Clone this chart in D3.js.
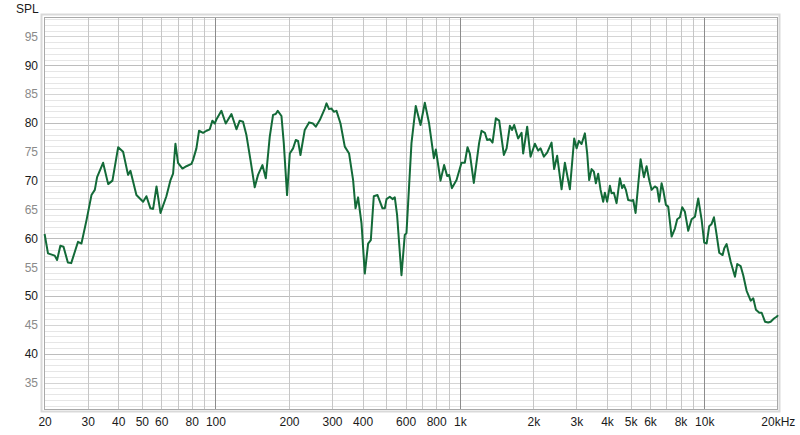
<!DOCTYPE html>
<html>
<head>
<meta charset="utf-8">
<script src="https://cdn.jsdelivr.net/npm/d3@7"></script>
<style>
  html, body { margin: 0; padding: 0; background: #ffffff; }
  svg { display: block; }
  text { font-family: "Liberation Sans", Arial, sans-serif; font-size: 12px; }
</style>
</head>
<body>
<svg id="chart" width="800" height="435"></svg>
<script>
// ---- data ----
const freqHz = [20, 20.65, 22.0, 22.5, 23.2, 23.9, 24.9, 25.7, 27.4, 28.3, 29.7, 31.1, 32.1, 32.8, 34.7, 36.4, 37.9, 40.0, 41.9, 43.9, 44.9, 47.5, 50.6, 52.2, 54.2, 55.6, 57.4, 59.6, 63.0, 65.5, 67.1, 68.6, 70.3, 73.3, 76.1, 79.8, 81.0, 83.6, 85.7, 89.0, 91.9,
  94.8, 97.2, 99.3, 100.9, 105.8, 110.2, 116.3, 121.9, 125.7, 129.7, 133.9, 139.1, 144.8, 149.4, 155.7, 160.7, 166.8, 172.1, 176.5, 179.9, 186.3, 190.4, 196.4, 201.5, 207.8, 213.2, 217.8, 222.8, 232, 241.6, 250.9, 257.4, 267.3, 280.2, 284.8, 291.7, 298.4, 305, 312.8, 324.9, 338.3, 352.3, 365.9, 374.3, 383.5, 396, 408.5, 421.4, 432.3, 444.6, 460.4, 482.6, 493.2, 501.2, 517, 530.3, 541.9,
  553.7, 577.1, 595.3, 604.9, 634.1, 660.3, 690.6, 719.1, 748.7, 783, 797.8, 833.7, 862.5, 887.3, 904.2, 927.5, 969.4, 1016, 1048, 1075, 1099, 1141, 1199, 1227, 1266, 1293, 1327, 1361, 1404, 1449, 1514, 1554, 1602, 1637, 1669, 1732, 1789, 1816, 1886, 1947, 2028, 2092, 2140, 2207, 2277, 2373, 2432, 2502, 2608, 2690, 2820, 2937, 3004, 3070, 3149, 3249,
  3320, 3383, 3460, 3536, 3603, 3682, 3766, 3860, 3922, 4008, 4111, 4177, 4268, 4379, 4517, 4616, 4691, 4780, 4885, 5044, 5121, 5238, 5367, 5491, 5665, 5810, 5955, 6091, 6284, 6421, 6543, 6693, 6795, 6969, 7122, 7355, 7587, 7753, 7952, 8128, 8337, 8600, 8880, 9161, 9450, 9759, 10000, 10230, 10480, 10720, 10960, 11240, 11520, 11890, 12080, 12350, 12830, 13360, 13650, 14090, 14440, 14910, 15490, 15870, 16280, 16800, 17180, 17730, 18280, 18700, 19290, 19910, 20000];

const splDb = [60.75, 57.4, 57.0, 56.25, 58.7, 58.55, 55.8, 55.7, 59.4, 59.1, 63.2, 67.5, 68.4, 70.6, 73.1, 69.4, 70.0, 75.8, 75.0, 71.0, 71.7, 67.5, 66.35, 67.3, 65.2, 65.1, 69.0, 64.4, 67.3, 70.1, 71.2, 76.4, 73.1, 72.1, 72.5, 72.9, 73.6, 75.6, 78.65, 78.3, 78.65,
  78.9, 80.4, 79.9, 80.6, 82.1, 79.9, 81.55, 78.9, 80.4, 80.2, 77.9, 73.6, 68.85, 71.0, 72.7, 70.4, 77.6, 81.4, 81.55, 82.1, 81.2, 76.5, 67.5, 74.7, 75.6, 77.05, 76.9, 74.45, 78.8, 80.1, 79.9, 79.35, 80.5, 82.5, 83.4, 82.4, 82.5, 81.95, 82.1, 79.9, 75.9, 74.7, 70.1, 65.2, 67.1, 62.6, 53.9, 59.1, 59.7, 67.3, 67.5, 65.2, 65.2, 66.8, 67.2, 66.8, 67.1,
  64.05, 53.6, 60.6, 60.9, 76.5, 82.95, 79.65, 83.5, 79.9, 73.9, 75.4, 70.0, 72.7, 70.8, 71.0, 68.7, 70.1, 73.1, 73.1, 75.8, 74.7, 69.6, 76.5, 78.65, 78.3, 77.05, 77.2, 76.6, 80.8, 80.4, 74.45, 75.6, 79.5, 78.8, 79.65, 77.3, 78.3, 74.7, 79.35, 74.15, 76.4, 75.2, 75.6, 74.15, 74.85, 76.6, 72.0, 74.3, 68.5, 73.1, 68.5, 77.3, 75.6, 76.9, 76.35, 78.2,
  74.7, 70.1, 72.0, 71.55, 69.55, 71.2, 68.4, 66.35, 67.9, 66.35, 69.1, 67.8, 67.9, 66.1, 70.4, 68.7, 69.25, 68.4, 66.65, 66.5, 66.65, 64.4, 69.25, 73.7, 70.6, 72.5, 70.1, 68.4, 69.0, 68.7, 66.35, 69.55, 68.4, 65.8, 65.5, 60.3, 61.7, 63.3, 63.65, 65.4, 64.6, 61.3, 63.3, 63.75, 66.9, 63.2, 59.25, 59.1, 62.1, 62.5, 63.65, 60.6, 57.5, 57.1, 58.3, 59.0, 55.95, 53.35, 55.55, 55.2, 53.6, 50.9, 49.2, 49.6, 47.6, 47.1, 47.1, 45.55, 45.4, 45.55, 46.1, 46.5, 46.7];

const xTickValues = [20, 30, 40, 50, 60, 80, 100, 200, 300, 400, 600, 800, 1000, 2000, 3000, 4000, 5000, 6000, 8000, 10000, 20000];
const xTickLabels = ["20", "30", "40", "50", "60", "80", "100", "200", "300", "400", "600", "800", "1k", "2k", "3k", "4k", "5k", "6k", "8k", "10k", "20kHz"];
const xGridValues = [30, 40, 50, 60, 70, 80, 90, 100, 200, 300, 400, 500, 600, 700, 800, 900, 1000, 2000, 3000, 4000, 5000, 6000, 7000, 8000, 9000, 10000];
const xDecades = [100, 1000, 10000];
const yTickValues = [35, 40, 45, 50, 55, 60, 65, 70, 75, 80, 85, 90, 95];
const yDomain = [30.24, 98.37];
const yAxisTitle = "SPL";

// ---- layout ----
const L = 44, R = 778, T = 17, B = 410;
const svg = d3.select("#chart");

const x = d3.scaleLog().domain([20, 20000]).range([44.6, 777.8]);
const y = d3.scaleLinear().domain(yDomain).range([B, T]);

// frame shading (bevel)
svg.append("rect").attr("x", L - 2.5).attr("y", T - 2.5).attr("width", R - L + 4).attr("height", B - T + 4)
  .attr("fill", "none").attr("stroke", "#d9d9d9").attr("stroke-width", 2);
svg.append("rect").attr("x", L).attr("y", T).attr("width", R - L).attr("height", B - T).attr("fill", "#ffffff");

const grid = svg.append("g");
// horizontal minor grid every 1 dB
const minorY = d3.range(31, 99);
grid.selectAll("line.hy").data(minorY).join("line")
  .attr("x1", L).attr("x2", R)
  .attr("y1", d => Math.round(y(d)) + 0.5).attr("y2", d => Math.round(y(d)) + 0.5)
  .attr("stroke", d => d % 10 === 0 ? "#bdbdbd" : (d % 5 === 0 ? "#d4d4d4" : "#e6e6e6"))
  .attr("stroke-width", 1);

// vertical grid
grid.selectAll("line.vx").data(xGridValues).join("line")
  .attr("x1", d => Math.round(x(d)) + 0.5).attr("x2", d => Math.round(x(d)) + 0.5)
  .attr("y1", T).attr("y2", B)
  .attr("stroke", d => xDecades.includes(d) ? "#8c8c8c" : "#c6c6c6")
  .attr("stroke-width", 1);

// plot border
svg.append("rect").attr("x", L + 0.5).attr("y", T + 0.5).attr("width", R - L - 1).attr("height", B - T - 1)
  .attr("fill", "none").attr("stroke", "#a9a9a9").attr("stroke-width", 1);

// curve
const line = d3.line().x((d, i) => x(freqHz[i])).y(d => y(d)).curve(d3.curveLinear);
svg.append("path").datum(splDb)
  .attr("d", line)
  .attr("fill", "none").attr("stroke", "#136a38").attr("stroke-width", 2)
  .attr("stroke-linejoin", "round");

// y axis labels
const yAxis = d3.axisLeft(y).tickValues(yTickValues).tickSize(0).tickPadding(0).tickFormat(d3.format("d"));
const gy = svg.append("g").attr("transform", `translate(38,0)`).call(yAxis);
gy.select(".domain").remove();
gy.selectAll("text")
  .attr("fill", d => d % 10 === 0 ? "#1a1a1a" : "#8a8a8a")
  .style("font-family", '"Liberation Sans", Arial, sans-serif').style("font-size", "12px");

// x axis labels
const xAxis = d3.axisBottom(x).tickValues(xTickValues).tickSize(0).tickPadding(0)
  .tickFormat((d, i) => xTickLabels[i]);
const gx = svg.append("g").attr("transform", `translate(0,417)`).call(xAxis);
gx.select(".domain").remove();
gx.selectAll("text").attr("fill", "#1a1a1a")
  .style("font-family", '"Liberation Sans", Arial, sans-serif').style("font-size", "12px");

// axis title
svg.append("text").attr("x", 16).attr("y", 13).attr("fill", "#1a1a1a").text(yAxisTitle);
</script>
</body>
</html>
